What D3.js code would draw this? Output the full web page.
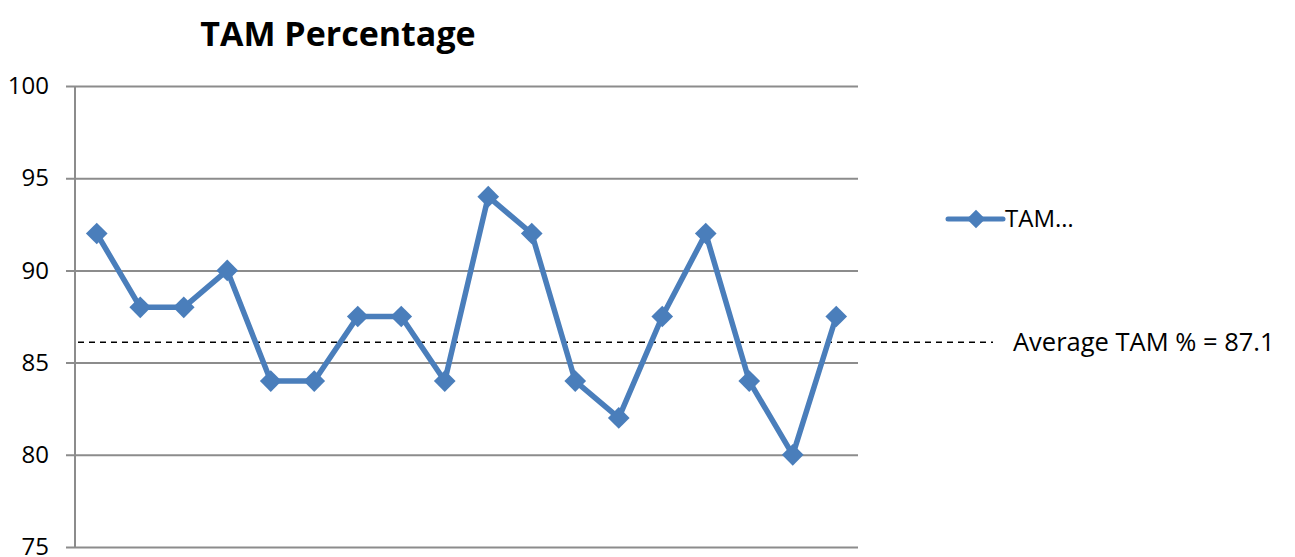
<!DOCTYPE html>
<html>
<head>
<meta charset="utf-8">
<script src="https://cdn.jsdelivr.net/npm/d3@7"></script>
<style>
  body { margin: 0; background: #fff; }
  svg { display: block; }
</style>
</head>
<body>
<div class="chart"></div>
<script>
// Data
const samples = d3.range(1, 19)
const tamValues = [92, 88, 88, 90, 84, 84, 87.5, 87.5, 84, 94, 92, 84, 82, 87.5, 92, 84, 80, 87.5]
const yTicks = [75, 80, 85, 90, 95, 100]
const averageLine = 86.1   // where the dashed line sits in the picture
const averageLabel = "Average TAM % = 87.1"
const seriesName = "TAM…"

const width = 1295
const height = 557
const margin = {top: 86, right: 437, bottom: 10, left: 75}
const blue = "#4a7ebb"
const grid = "#8c8c8c"
const font = "'Open Sans', 'Liberation Sans', sans-serif"

const svg = d3.select(".chart").append("svg")
    .attr("width", width)
    .attr("height", height)
    .attr("viewBox", [0, 0, width, height])
    .style("font-family", font)

const x = d3.scaleBand()
    .domain(samples)
    .range([margin.left, width - margin.right])

const y = d3.scaleLinear()
    .domain([75, 100])
    .range([height - margin.bottom, margin.top])

// Gridlines + y axis
svg.append("g")
    .attr("transform", `translate(${margin.left},0)`)
    .call(d3.axisLeft(y).tickValues(yTicks).tickSize(-(width - margin.left - margin.right)).tickPadding(26))
    .call(g => g.select(".domain").remove())
    .call(g => g.selectAll(".tick line").attr("x1", -9).attr("stroke", grid).attr("stroke-width", 2))
    .call(g => g.selectAll(".tick text")
        .attr("fill", "#000")
        .attr("font-size", 24)
        .attr("font-family", font))

// left axis line
svg.append("line")
    .attr("x1", margin.left).attr("x2", margin.left)
    .attr("y1", y(100)).attr("y2", y(75))
    .attr("stroke", grid)
    .attr("stroke-width", 2)

// Average dashed line
svg.append("line")
    .attr("x1", 78).attr("x2", 993)
    .attr("y1", y(averageLine)).attr("y2", y(averageLine))
    .attr("stroke", "#000")
    .attr("stroke-width", 1.5)
    .attr("stroke-dasharray", "6,5")

svg.append("text")
    .attr("x", 1013)
    .attr("y", y(averageLine))
    .attr("dy", "0.35em")
    .attr("font-size", 25.5)
    .text(averageLabel)

// Series line
const cx = d => x(d) + x.bandwidth() / 2
const line = d3.line()
    .x((d, i) => cx(samples[i]))
    .y(d => y(d))

svg.append("path")
    .datum(tamValues)
    .attr("fill", "none")
    .attr("stroke", blue)
    .attr("stroke-width", 5.5)
    .attr("stroke-linejoin", "round")
    .attr("d", line)

const diamond = d3.symbol().type(d3.symbolDiamond2).size(300)

svg.append("g")
    .selectAll("path")
    .data(tamValues)
    .join("path")
    .attr("transform", (d, i) => `translate(${cx(samples[i])},${y(d)})`)
    .attr("d", diamond)
    .attr("fill", blue)

// Legend
const legend = svg.append("g").attr("transform", "translate(948,219)")
legend.append("line")
    .attr("x1", 0).attr("x2", 55)
    .attr("stroke", blue)
    .attr("stroke-width", 5)
    .attr("stroke-linecap", "round")
legend.append("path")
    .attr("transform", "translate(28,0)")
    .attr("d", d3.symbol().type(d3.symbolDiamond2).size(220))
    .attr("fill", blue)
legend.append("text")
    .attr("x", 57)
    .attr("dy", "0.35em")
    .attr("font-size", 24)
    .text(seriesName)

// Title
svg.append("text")
    .attr("x", 338)
    .attr("y", 46)
    .attr("text-anchor", "middle")
    .attr("font-size", 34)
    .attr("font-weight", "bold")
    .text("TAM Percentage")
</script>
</body>
</html>
